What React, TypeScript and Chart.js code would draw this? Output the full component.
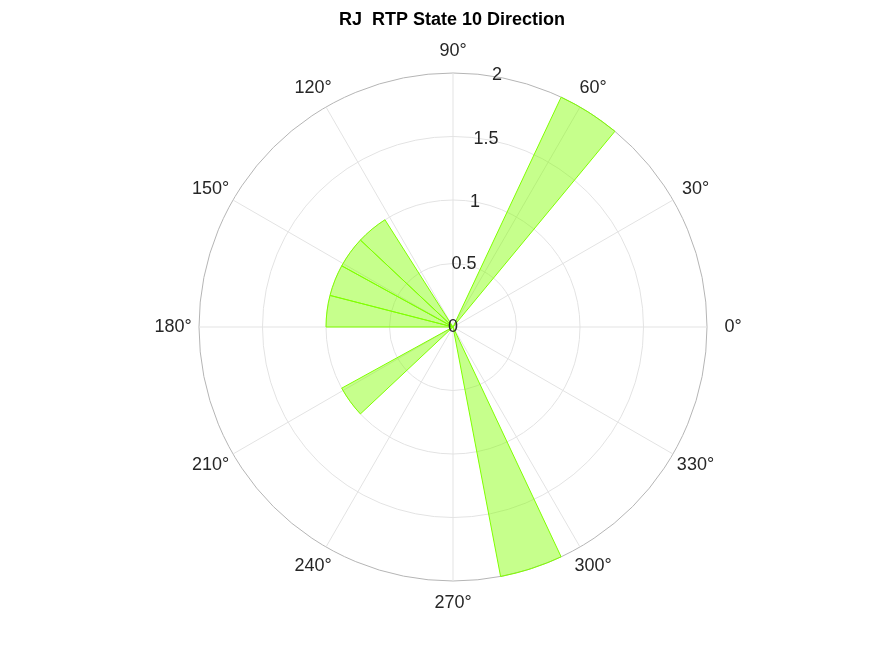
import { FC, useEffect, useRef } from "react";
import Chart from "chart.js/auto";

// histogram bins (degrees): 25 bins of 14.4, first edge at 7.2
const binStart = 7.2;
const binWidth = 14.4;
const binCounts = [0, 0, 0, 2, 0, 0, 0, 0, 1, 1, 1, 1, 0, 0, 1, 0, 0, 0, 0, 2, 0, 0, 0, 0, 0];
const radialTicks = ["0", "0.5", "1", "1.5", "2"];
const angleTicks = [0, 30, 60, 90, 120, 150, 180, 210, 240, 270, 300, 330];
const titleText = "RJ  RTP State 10 Direction";

const FONT = "'Liberation Sans', Arial, sans-serif";

const App: FC = () => {
  const canvasRef = useRef<HTMLCanvasElement | null>(null);

  useEffect(() => {
    if (!canvasRef.current) return;
    const n = binCounts.length;
    // polarArea goes clockwise from its start angle, so walk bins backwards
    const values = binCounts.map((_, j) => binCounts[(2 * n - 1 - j) % n]);
    const labels = values.map((_, j) => String(j));

    const deco = {
      id: "deco",
      beforeDatasetsDraw(chart: any) {
        const s = chart.scales.r;
        const ctx = chart.ctx;
        ctx.save();
        ctx.strokeStyle = "#e3e3e3";
        ctx.lineWidth = 1;
        angleTicks.forEach((a) => {
          const t = (a * Math.PI) / 180;
          ctx.beginPath();
          ctx.moveTo(s.xCenter, s.yCenter);
          ctx.lineTo(s.xCenter + s.drawingArea * Math.cos(t), s.yCenter - s.drawingArea * Math.sin(t));
          ctx.stroke();
        });
        ctx.restore();
      },
      afterDraw(chart: any) {
        const s = chart.scales.r;
        const ctx = chart.ctx;
        ctx.save();
        ctx.fillStyle = "#262626";
        ctx.font = `18px ${FONT}`;
        ctx.textAlign = "center";
        ctx.textBaseline = "middle";
        angleTicks.forEach((a) => {
          const t = (a * Math.PI) / 180;
          const r = s.drawingArea + 22;
          ctx.fillText(a + "°", s.xCenter + (r + 4) * Math.cos(t), s.yCenter - r * Math.sin(t));
        });
        const ta = (80 * Math.PI) / 180;
        radialTicks.forEach((lab, i) => {
          const r = (s.drawingArea * i) / (radialTicks.length - 1);
          ctx.fillText(lab, s.xCenter + r * Math.cos(ta), s.yCenter - r * Math.sin(ta) - (i === radialTicks.length - 1 ? 2 : 0));
        });
        ctx.fillStyle = "#000";
        ctx.font = `bold 18px ${FONT}`;
        ctx.fillText(titleText, s.xCenter - 1, 20);
        ctx.restore();
      },
    };

    const myChart = new Chart(canvasRef.current, {
      type: "polarArea",
      data: {
        labels,
        datasets: [
          {
            data: values,
            backgroundColor: "rgba(128,255,0,0.45)",
            borderColor: "#80ff00",
            borderWidth: 1,
            angle: binWidth,
          } as any,
        ],
      },
      options: {
        animation: false,
        responsive: false,
        layout: { padding: { left: 199, right: 168, top: 73, bottom: 75 } },
        plugins: { legend: { display: false }, tooltip: { enabled: false } },
        scales: {
          r: {
            min: 0,
            max: 2,
            startAngle: 90 - binStart,
            ticks: { display: false, stepSize: 0.5 },
            pointLabels: { display: false },
            angleLines: { display: false },
            grid: {
              circular: true,
              color: (c: any) => (c.tick && c.tick.value === 2 ? "#b5b5b5" : "#e3e3e3"),
            },
          },
        },
      } as any,
      plugins: [deco],
    });

    return () => {
      myChart.destroy();
    };
  }, []);

  return (
    <div style={{ position: "absolute", left: 0, top: 0, background: "#fff" }}>
      <canvas ref={canvasRef} width={875} height={656}></canvas>
    </div>
  );
};
export default App;
